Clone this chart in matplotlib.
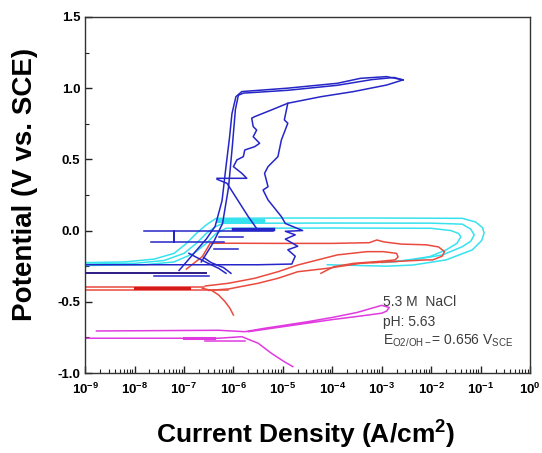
import numpy as np
import matplotlib
matplotlib.use("Agg")
import matplotlib.pyplot as plt
from matplotlib.ticker import LogLocator, MultipleLocator, FixedFormatter, NullFormatter

plt.rcParams['font.family'] = ['Liberation Sans', 'DejaVu Sans']
plt.rcParams['mathtext.fontset'] = 'custom'
plt.rcParams['mathtext.rm'] = 'Liberation Sans'
plt.rcParams['mathtext.bf'] = 'Liberation Sans:bold'
plt.rcParams['mathtext.it'] = 'Liberation Sans:italic'

# log10 current density (A/cm2) and potential (V vs SCE)
# --- blue: passive film with breakdown near 1 V
blue_up1_i = [-7.10, -6.80, -6.55, -6.37, -6.23, -6.15, -6.08, -6.03, -5.95, -5.83, -4.90, -3.90, -3.43, -2.90, -2.57]
blue_up1_e = [-0.28, -0.16, -0.06, 0.03, 0.21, 0.45, 0.65, 0.82, 0.94, 0.976, 1.00, 1.034, 1.069, 1.081, 1.058]
blue_up2_i = [-6.65, -6.40, -6.22, -6.10, -6.02, -5.96, -5.90, -5.80, -4.90, -3.90, -3.20, -2.75, -2.57]
blue_up2_e = [-0.22, -0.08, 0.05, 0.30, 0.60, 0.85, 0.95, 0.965, 0.985, 1.02, 1.06, 1.075, 1.058]
blue_ret_i = [-2.57, -2.90, -3.57, -4.23, -4.90, -4.97, -4.90, -5.03, -5.10, -5.30, -5.37, -5.30, -5.40, -5.30,
              -5.03, -4.95, -4.60, -4.95, -4.75, -4.95, -4.85, -4.70, -4.90, -4.75, -4.82, -5.50, -9.0]
blue_ret_e = [1.058, 1.022, 0.976, 0.940, 0.894, 0.777, 0.754, 0.636, 0.519, 0.449, 0.402, 0.308, 0.285, 0.215,
              0.098, 0.05, 0.0, -0.005, -0.03, -0.06, -0.08, -0.11, -0.135, -0.18, -0.235, -0.24, -0.24]
blue_wig_i = [-4.90, -5.23, -5.57, -5.63, -5.60, -5.53, -5.60, -5.47, -5.57, -5.77, -5.80, -5.93, -6.00, -5.83, -5.73, -6.33]
blue_wig_e = [0.894, 0.847, 0.80, 0.789, 0.730, 0.706, 0.659, 0.613, 0.589, 0.566, 0.519, 0.496, 0.449, 0.402, 0.367, 0.367]
blue_diag_i = [-6.33, -6.13, -5.70, -5.50]
blue_diag_e = [0.36, 0.332, 0.098, 0.0]
blue_h1_i = [-7.80, -5.20]
blue_h1_e = [0.0, 0.0]
blue_h2_i = [-7.67, -7.20, -7.20, -7.20, -6.20]
blue_h2_e = [-0.078, -0.078, 0.0, -0.078, -0.078]
blue_h3_i = [-6.40, -5.90]
blue_h3_e = [-0.13, -0.13]
blue_h4_i = [-6.30, -5.80]
blue_h4_e = [-0.045, -0.045]
blue_cat1_i = [-6.90, -6.57, -6.30, -6.15]
blue_cat1_e = [-0.16, -0.22, -0.265, -0.30]
blue_cat2_i = [-6.60, -6.45, -6.20, -6.05]
blue_cat2_e = [-0.19, -0.225, -0.26, -0.30]
blue_low_i = [-7.60, -6.50]
blue_low_e = [-0.32, -0.32]
navy_i = [-9.0, -6.55]
navy_e = [-0.295, -0.295]

# --- cyan: three cycles
cyan1_i = [-9.0, -8.2, -7.6, -7.2, -6.95, -6.75, -6.55, -6.35, -5.0, -3.0, -1.37, -1.10, -0.96, -0.93, -0.98,
           -1.17, -1.70, -2.37, -2.90, -3.5, -4.1]
cyan1_e = [-0.225, -0.22, -0.20, -0.16, -0.09, -0.02, 0.04, 0.086, 0.088, 0.088, 0.086, 0.06, 0.02, -0.019, -0.07,
           -0.136, -0.206, -0.242, -0.25, -0.245, -0.24]
cyan2_i = [-9.0, -8.0, -7.4, -7.0, -6.75, -6.55, -6.35, -6.2, -4.0, -2.0, -1.37, -1.20, -1.13, -1.20, -1.37,
           -1.77, -2.37, -2.9, -3.2]
cyan2_e = [-0.235, -0.23, -0.21, -0.16, -0.09, -0.02, 0.03, 0.051, 0.053, 0.052, 0.045, 0.01, -0.031, -0.075, -0.113,
           -0.171, -0.206, -0.22, -0.225]
cyan3_i = [-9.0, -7.8, -7.2, -6.8, -6.55, -6.35, -6.15, -4.0, -2.0, -1.6, -1.45, -1.40, -1.48, -1.70, -2.03, -2.70, -3.0]
cyan3_e = [-0.245, -0.24, -0.22, -0.16, -0.09, -0.02, 0.016, 0.018, 0.016, 0.0, -0.02, -0.043, -0.09, -0.136,
           -0.183, -0.218, -0.225]
cyan_blob_i = [-6.30, -5.40]
cyan_blob_e = [0.065, 0.065]

# --- red
red_ec1_i = [-9.0, -6.60]
red_ec1_e = [-0.395, -0.395]
red_ec2_i = [-9.0, -6.10]
red_ec2_e = [-0.42, -0.42]
red_dark_i = [-8.0, -6.9]
red_dark_e = [-0.40, -0.40]
red_cat_i = [-6.63, -6.43, -6.30, -6.17, -6.07, -6.00]
red_cat_e = [-0.405, -0.422, -0.452, -0.499, -0.546, -0.593]
red_out_i = [-6.50, -6.10, -5.50, -5.10, -4.70, -4.10, -3.43, -2.77, -2.10, -1.97, -1.78, -1.73, -1.85, -2.10, -2.60,
             -2.95, -3.10, -3.25, -4.0, -5.0, -6.0, -6.47, -6.63, -6.95]
red_out_e = [-0.42, -0.41, -0.37, -0.335, -0.289, -0.265, -0.230, -0.218, -0.206, -0.206, -0.18, -0.148, -0.115, -0.10,
             -0.095, -0.08, -0.066, -0.085, -0.09, -0.09, -0.089, -0.089, -0.183, -0.27]
red_in_i = [-6.57, -6.10, -5.57, -5.10, -4.70, -4.43, -3.90, -3.30, -2.97, -2.70, -2.67, -2.73, -3.10, -3.57, -3.97, -4.17, -4.23]
red_in_e = [-0.389, -0.37, -0.335, -0.289, -0.242, -0.218, -0.171, -0.148, -0.148, -0.16, -0.185, -0.206, -0.218,
            -0.230, -0.254, -0.289, -0.30]

# --- magenta
mag1_i = [-8.77, -6.30, -5.77, -5.37, -5.10, -4.5, -4.0, -3.5, -3.0, -2.85, -2.90, -3.0, -3.43, -4.0, -4.6, -5.2, -5.7]
mag1_e = [-0.705, -0.70, -0.71, -0.686, -0.672, -0.64, -0.61, -0.575, -0.525, -0.54, -0.565, -0.58, -0.60, -0.625,
          -0.655, -0.685, -0.71]
mag2_i = [-9.0, -6.30, -5.83, -5.50, -5.23, -4.97, -4.80]
mag2_e = [-0.756, -0.756, -0.745, -0.791, -0.862, -0.921, -0.955]
mag3_i = [-6.57, -5.77]
mag3_e = [-0.773, -0.773]
mag_thick_i = [-7.0, -6.4]
mag_thick_e = [-0.756, -0.756]

x_ticks = [1e-9, 1e-8, 1e-7, 1e-6, 1e-5, 1e-4, 1e-3, 1e-2, 1e-1, 1e0]
x_ticklabels = [r'$\mathbf{10^{-9}}$', r'$\mathbf{10^{-8}}$', r'$\mathbf{10^{-7}}$', r'$\mathbf{10^{-6}}$',
                r'$\mathbf{10^{-5}}$', r'$\mathbf{10^{-4}}$', r'$\mathbf{10^{-3}}$', r'$\mathbf{10^{-2}}$',
                r'$\mathbf{10^{-1}}$', r'$\mathbf{10^{0}}$']
y_ticks = [-1.0, -0.5, 0.0, 0.5, 1.0, 1.5]
y_ticklabels = ['-1.0', '-0.5', '0.0', '0.5', '1.0', '1.5']

BLUE = '#2626c8'
NAVY = '#2c1c84'
CYAN = '#36e2ee'
RED = '#ea4a3e'
DARKRED = '#d61a1a'
MAG = '#e03ae0'

fig = plt.figure(figsize=(5.42, 4.53), dpi=100)
ax = fig.add_axes([0.157, 0.1766, 0.821, 0.786])


def ln(i, e, c, lw=1.1, z=2):
    ax.plot(10 ** np.array(i), e, color=c, lw=lw, zorder=z, solid_joinstyle='round')


# cyan below blue
ln(cyan1_i, cyan1_e, CYAN)
ln(cyan2_i, cyan2_e, CYAN)
ln(cyan3_i, cyan3_e, CYAN)
ln(cyan_blob_i, cyan_blob_e, CYAN, lw=3)

ln(red_ec1_i, red_ec1_e, RED)
ln(red_ec2_i, red_ec2_e, RED)
ln(red_dark_i, red_dark_e, DARKRED, lw=2.2)
ln(red_cat_i, red_cat_e, RED)
ln(red_out_i, red_out_e, RED)
ln(red_in_i, red_in_e, RED)

ln(mag1_i, mag1_e, MAG)
ln(mag2_i, mag2_e, MAG)
ln(mag3_i, mag3_e, MAG)
ln(mag_thick_i, mag_thick_e, MAG, lw=2.2)

for bi, be in [(blue_up1_i, blue_up1_e), (blue_up2_i, blue_up2_e), (blue_ret_i, blue_ret_e),
               (blue_wig_i, blue_wig_e), (blue_diag_i, blue_diag_e), (blue_h1_i, blue_h1_e),
               (blue_h2_i, blue_h2_e), (blue_h3_i, blue_h3_e), (blue_h4_i, blue_h4_e),
               (blue_cat1_i, blue_cat1_e), (blue_cat2_i, blue_cat2_e), (blue_low_i, blue_low_e)]:
    ln(bi, be, BLUE, z=3)
ln(navy_i, navy_e, NAVY, lw=1.4, z=3)
ln([-6.0, -5.2], [0.01, 0.01], BLUE, lw=2.5, z=3)

ax.set_xscale('log')
ax.set_xlim(1e-9, 1e0)
ax.set_ylim(-1.0, 1.5)
ax.set_xticks(x_ticks)
ax.xaxis.set_major_formatter(FixedFormatter(x_ticklabels))
ax.xaxis.set_minor_locator(LogLocator(base=10, subs=np.arange(2, 10), numticks=20))
ax.xaxis.set_minor_formatter(NullFormatter())
ax.set_yticks(y_ticks)
ax.set_yticklabels(y_ticklabels, fontweight='bold')
ax.yaxis.set_minor_locator(MultipleLocator(0.25))
ax.tick_params(which='major', direction='in', length=5, width=1, labelsize=9.5, color='#222')
ax.tick_params(which='minor', direction='in', length=3, width=0.8, color='#222')
ax.tick_params(axis='x', which='major', pad=6)
for s in ax.spines.values():
    s.set_color('#333333')
    s.set_linewidth(1.0)

ax.set_xlabel(r'Current Density (A/cm$^{\mathbf{2}}$)', fontsize=19, fontweight='bold', va='center')
ax.set_ylabel('Potential (V vs. SCE)', fontsize=20, fontweight='bold', va='center')
ax.xaxis.set_label_coords(0.496, -0.175)
ax.yaxis.set_label_coords(-0.135, 0.53)

txt_color = '#3c3c3c'
ax.text(0.67, 0.20, '5.3 M  NaCl', transform=ax.transAxes, fontsize=10, color=txt_color, va='center')
ax.text(0.67, 0.144, 'pH: 5.63', transform=ax.transAxes, fontsize=10, color=txt_color, va='center')
ax.text(0.67, 0.09, r'E$_{\mathrm{O2/OH-}}$= 0.656 V$_{\mathrm{SCE}}$', transform=ax.transAxes,
        fontsize=10, color=txt_color, va='center')

fig.savefig('out.png', dpi=100)
